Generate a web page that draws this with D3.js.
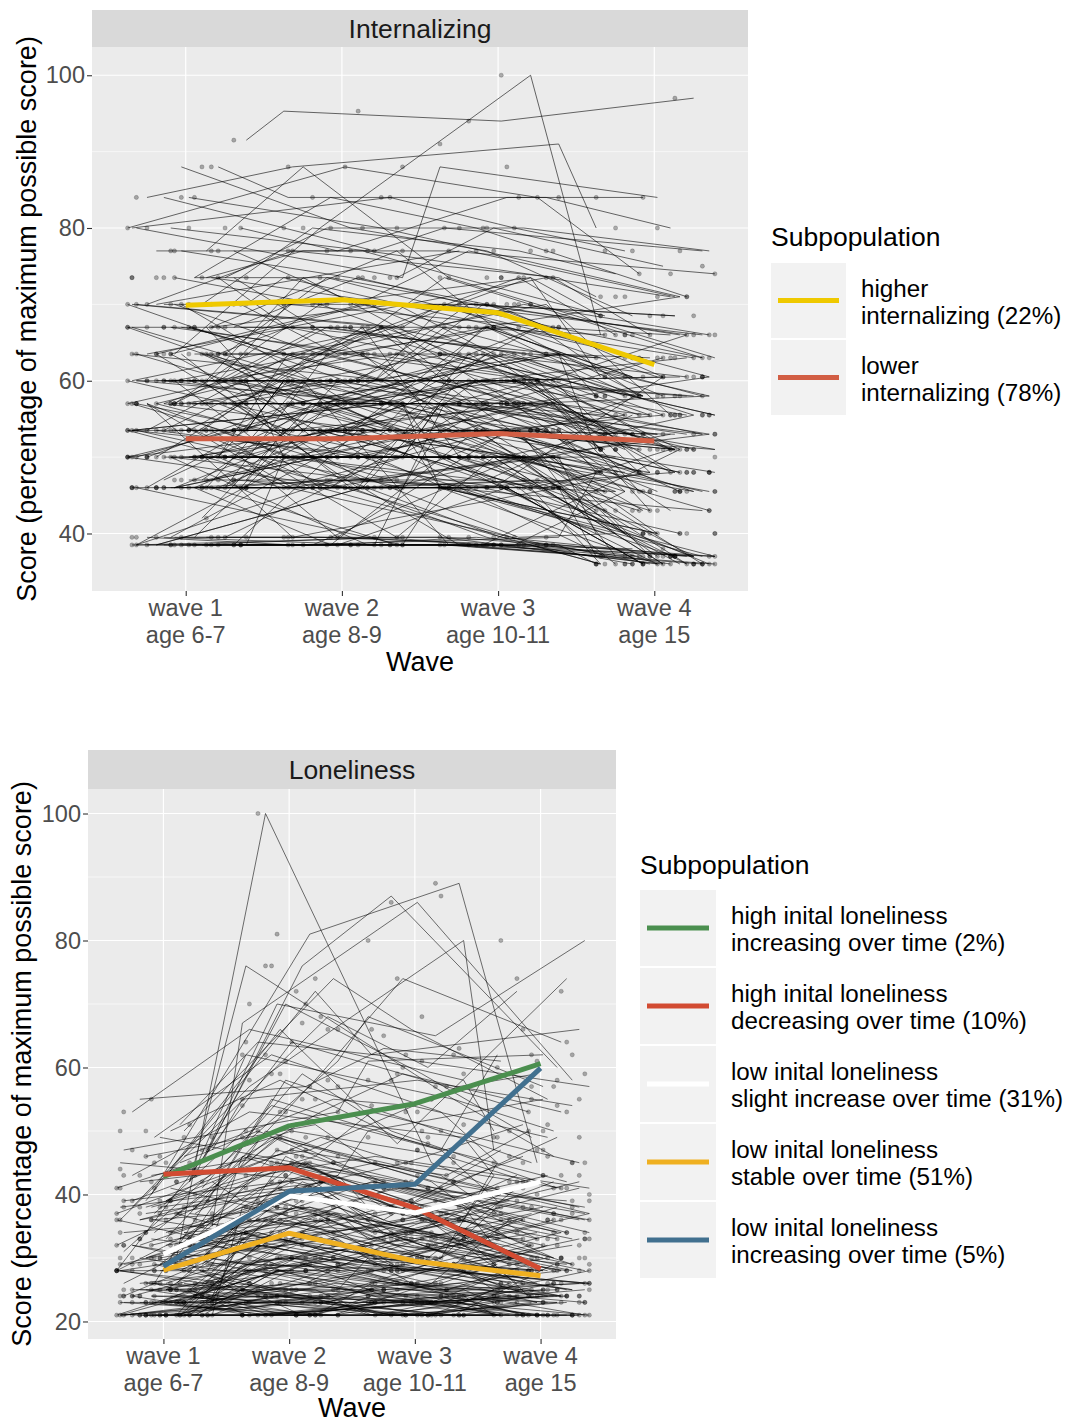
<!DOCTYPE html>
<html>
<head>
<meta charset="utf-8">
<script src="https://cdn.jsdelivr.net/npm/d3@7"></script>
<style>
  body { margin: 0; background: #fff; }
  text { font-family: "Liberation Sans", Arial, sans-serif; }
</style>
</head>
<body>
<script>

// ---- data ----
var waveLabels = [["wave 1", "age 6-7"], ["wave 2", "age 8-9"], ["wave 3", "age 10-11"], ["wave 4", "age 15"]]

var internalTicks = [40, 60, 80, 100]
var internalMinor = [50, 70, 90]
var internalLabels = [["higher", "internalizing (22%)"], ["lower", "internalizing (78%)"]]
var internalColors = ["#EFC900", "#D25E44"]
var internalMeans = [
  [69.9, 70.6, 68.9, 62.1],
  [52.4, 52.4, 53.1, 52.1]
]

var lonelyTicks = [20, 40, 60, 80, 100]
var lonelyMinor = [30, 50, 70, 90]
var lonelyLabels = [
  ["high inital loneliness", "increasing over time (2%)"],
  ["high inital loneliness", "decreasing over time (10%)"],
  ["low inital loneliness", "slight increase over time (31%)"],
  ["low inital loneliness", "stable over time (51%)"],
  ["low inital loneliness", "increasing over time (5%)"]
]
var lonelyColors = ["#4B8F4F", "#D24B32", "#FFFFFF", "#EFB021", "#41708F"]
var lonelyMeans = [
  [42.8, 50.8, 54.3, 60.6],
  [43.2, 44.2, 37.9, 28.3],
  [30.6, 39.8, 37.1, 42.0],
  [28.1, 33.9, 29.5, 27.2],
  [28.7, 40.5, 41.6, 59.9]
]

// individual children, one row = scores at wave 1..4 (sample of the cloud)
var internalKids = [
  [38.5,38.5,38.5,36],[38.5,38.5,38.5,37],[39.5,39.5,38.5,36],[38.5,39.5,39.5,36],[38.5,38.5,39.5,37],
  [39.5,38.5,38.5,36],[38.5,38.5,38.5,38],[39.5,39.5,39.5,37],[38.5,38.5,46,36],[38.5,46,38.5,37],
  [46,38.5,38.5,36],[38.5,38.5,50,40],[50,38.5,38.5,36],[38.5,53.5,46,37],[39.5,46,50,43],
  [38.5,38.5,38.5,45.5],[38.5,39.5,38.5,51],[46,46,38.5,36],[53.5,46,38.5,37],[39.5,38.5,57,36],
  [38.5,50,39.5,37],[60,46,38.5,36],[38.5,57,46,40],[46,38.5,53.5,36],[38.5,38.5,39.5,48],
  [39.5,39.5,38.5,37],[38.5,38.5,38.5,36],[50,53.5,46,36],[57,50,46,37],[63.5,53.5,50,36],
  [46,46,46,45.5],[46,46,47,43],[47,46,46,48],[46,47,46,36],[46,46,50,45.5],
  [47,47,46,40],[46,50,46,51],[50,46,47,43],[46,46,46,37],[47,46,53.5,45.5],
  [46,53.5,46,48],[46,38.5,46,36],[46,46,57,53],[57,46,46,43],[46,47,47,55.5],
  [47,50,53.5,48],[46,60,50,45.5],[63.5,47,46,40],[46,46,46,60.5],[47,57,46,36],
  [50,50,50,48],[50,50,53.5,51],[50,53.5,50,45.5],[53.5,50,50,48],[50,50,50,36],
  [50,46,50,53],[50,57,53.5,51],[50,50,46,43],[50,50,50,55.5],[46,50,50,48],
  [50,60,57,53],[50,53.5,60,58],[57,50,50,40],[50,50,63.5,51],[50,46,46,37],
  [60,50,53.5,48],[50,67,50,45.5],[50,50,57,63],[50,50,50,50],[50,47,50,37],
  [53.5,53.5,53.5,51],[53.5,53.5,50,53],[53.5,57,53.5,55.5],[50,53.5,53.5,48],[53.5,50,57,51],
  [53.5,53.5,53.5,58],[57,53.5,53.5,45.5],[53.5,60,57,51],[53.5,53.5,46,36],[53.5,46,53.5,53],
  [46,53.5,60,55.5],[53.5,63.5,53.5,48],[53.5,53.5,67,60.5],[67,53.5,53.5,51],[53.5,57,63.5,58],
  [53.5,50,50,43],[60,57,53.5,55.5],[53.5,53.5,53.5,37],
  [57,57,57,55.5],[57,57,53.5,53],[57,60,57,58],[53.5,57,57,51],[57,57,60,60.5],
  [57,53.5,57,48],[57,63.5,60,55.5],[60,57,57,53],[57,57,50,45.5],[57,67,63.5,63],
  [57,50,57,37],[57,57,57,66],[50,57,63.5,58],[57,60,67,60.5],[63.5,57,57,51],
  [60,60,60,58],[60,60,57,55.5],[60,63.5,60,60.5],[57,60,60,53],[60,60,63.5,63],
  [60,57,60,51],[60,67,63.5,58],[63.5,60,60,55.5],[60,60,53.5,48],[60,70,67,66],
  [60,53.5,60,45.5],[60,60,70,63],[53.5,60,60,58],[60,63.5,57,51],[60,60,60,40],
  [63.5,63.5,63.5,60.5],[63.5,67,63.5,63],[67,63.5,67,58],[63.5,60,63.5,55.5],[67,67,67,63],
  [63.5,70,67,66],[67,70,70,60.5],[63.5,57,60,53],[67,63.5,60,55.5],[67,73.5,70,68.5],
  [63.5,63.5,70,66],[70,67,63.5,58],[67,60,63.5,51],[63.5,67,73.5,71],[67,67,60,48],
  [70,70,70,66],[70,73.5,67,63],[73.5,70,73.5,68.5],[70,67,70,60.5],[73.5,73.5,70,66],
  [70,77,73.5,71],[77,73.5,70,63],[73.5,77,77,74],[70,63.5,67,58],[77,77,73.5,68.5],
  [73.5,70,63.5,55.5],[70,80,77,74],[80,77,73.5,66],[77,70,77,71],[73.5,80,80,77],
  [80,84,80,77],[84,80,77,71],[88,84,84,80],[80,88,84,74],[84,77,80,77],
  [91.5,95.3,94,97],[63.5,80,100,66],[80,73.5,88,84],[73.5,84,80,71],[84,88,91,80],
  [88,80,77,68.5],[77,88,73.5,63],[80,77,84,84],[70,null,77,null],[null,73.5,80,75],
  [42,57,50,45.5],[63.5,50,57,43],[57,46,63.5,48],[46,63.5,57,53],[67,57,50,40],
  [53.5,67,57,45.5],[50,63.5,70,55.5],[70,60,53.5,48],[47,60,67,58],[60,50,46,37],
  [57,70,60,51],[63.5,53.5,46,40],[53.5,46,60,63],[46,57,63.5,51],[70,57,60,53],
  [60,73.5,63.5,55.5],[50,57,46,36],[57,63.5,53.5,45.5],[67,77,67,58],[53.5,63.5,73.5,66],
  [63.5,70,60,48],[73.5,63.5,57,51],[46,53.5,57,60.5],[57,47,53.5,40],[60,53.5,67,71],
  [50,60,53.5,43],[67,57,67,63],[53.5,67,60,53],[47,53.5,63.5,55.5],[70,63.5,73.5,60.5],
  [38.5,50,57,45.5],[39.5,57,50,36],[57,39.5,46,37],[63.5,46,39.5,36],[46,60,38.5,37],
  [50,39.5,53.5,43],[38.5,46,60,51],[53.5,39.5,50,36],[60,50,39.5,40],[39.5,53.5,46,48],
  [57,60,70,68.5],[63.5,73.5,67,60.5],[60,67,57,45.5],[67,60,70,66],[73.5,67,60,51],
  [50,53.5,67,58],[57,67,73.5,63],[53.5,60,50,37],[46,50,57,53],[60,57,50,36]
]

var lonelyKids = [
  [21,21,21,21],[21,23,21,21],[23,21,24,21],[21,24,23,25],[24,23,21,21],
  [21,21,24,23],[23,25,23,21],[21,28,24,21],[24,21,21,24],[25,24,21,21],
  [21,26,25,23],[23,21,23,28],[26,24,23,21],[21,29,26,24],[24,28,25,26],
  [21,23,28,30],[25,30,26,24],[23,24,21,29],[28,25,24,21],[21,21,26,33],
  [24,33,28,25],[26,21,21,21],[21,25,30,28],[23,28,23,24],[25,25,25,23],
  [28,30,26,25],[21,32,29,26],[24,26,33,29],[26,29,24,21],[23,21,25,32],
  [21,36,30,25],[25,28,32,34],[28,24,21,23],[24,30,25,21],[21,24,29,36],
  [26,34,28,24],[23,29,34,30],[28,28,25,29],[25,21,24,26],[21,38,33,28],
  [21,21,23,21],[23,23,21,24],[21,24,21,23],[24,21,23,25],[21,23,26,21],
  [25,23,21,28],[23,26,24,21],[21,21,21,24],[26,23,23,21],[21,25,21,26],
  [24,24,26,23],[28,21,24,25],[21,28,28,26],[23,21,21,23],[25,26,29,24],
  [29,24,23,26],[21,30,25,28],[26,25,21,21],[24,29,28,32],[23,25,26,29],
  [29,33,30,28],[30,36,32,29],[32,29,28,25],[29,38,34,33],[33,34,29,26],
  [30,28,33,37],[32,41,36,30],[34,30,28,24],[29,32,37,39],[36,38,33,30],
  [30,45,38,33],[33,29,25,23],[29,36,30,41],[34,42,39,34],[32,33,36,42],
  [36,30,29,28],[30,39,42,36],[33,46,37,29],[29,25,30,45],[34,37,33,38],
  [36,49,41,34],[32,28,24,21],[30,34,39,46],[33,41,45,37],[29,30,28,32],
  [36,43,34,28],[34,36,38,43],[30,50,42,33],[32,38,30,26],[29,42,37,49],
  [37,45,41,37],[38,42,36,30],[39,49,45,41],[37,36,33,28],[41,50,46,42],
  [38,46,53,45],[42,39,34,29],[37,54,47,39],[39,43,50,55],[41,37,30,25],
  [43,53,49,43],[38,41,45,51],[45,50,42,34],[39,58,51,45],[42,45,38,33],
  [46,55,54,49],[37,33,29,26],[43,47,57,59],[41,59,50,41],[38,49,42,38],
  [45,42,37,30],[39,53,59,53],[42,62,55,46],[37,47,43,50],[46,51,45,38],
  [47,55,58,54],[49,62,53,45],[47,53,61,62],[50,58,49,42],[53,66,58,50],
  [49,45,42,36],[51,64,62,57],[47,70,59,49],[55,57,63,61],[50,74,66,55],
  [30,100,45,40],[40,81,89,45],[45,76,87,60],[43,70,65,80],[36,68,60,72],
  [33,59,74,64],[42,76,55,50],[28,64,57,53],[39,72,62,66],[35,67,86,58],
  [26,55,47,62],[31,61,68,57],[44,66,48,74],[38,57,80,47],
  [23,30,33,26],[28,34,29,37],[25,36,30,24],[30,26,32,40],[21,33,26,30],
  [26,39,34,29],[33,30,36,33],[24,34,30,38],[29,41,33,28],[21,30,36,26],
  [32,36,28,34],[25,32,37,30],[28,42,36,24],[30,37,33,41],[23,34,29,25],
  [36,33,30,38],[26,43,38,32],[34,39,32,28],[24,29,36,43],[29,45,39,30],
  [32,38,42,36],[28,46,36,29],[36,41,36,47],[23,37,32,28],[30,32,26,36],
  [38,45,39,33],[26,36,41,34],[33,47,41,36],[28,33,37,43],[25,41,33,28],
  [21,28,32,36],[32,45,37,32],[37,41,34,42],[28,32,38,33],[34,49,43,37],
  [24,38,36,30],[29,36,41,39],[39,46,38,32],[23,32,30,36],[32,43,46,41],
  [21,23,21,23],[23,21,23,21],[21,21,23,24],[23,24,23,21],[24,23,21,23],
  [23,26,24,23],[21,28,23,25],[28,23,23,24],[23,23,25,28],[25,21,23,24]
]

// fixed spread used for jittering marks across each wave (fraction of +/-0.4 wave)
var jitterSteps = [-0.93, 0.41, -0.18, 0.77, -0.62, 0.05, 0.88, -0.35, 0.26, -0.79,
                   0.63, -0.07, 0.52, -0.47, 0.97, -0.24, 0.14, -0.86, 0.33]

var svg = d3.select("body").append("svg")
  .attr("width", 1074)
  .attr("height", 1423)

function jit(i, w, k) {
  var n = jitterSteps.length
  return jitterSteps[(i * k + w * 5 + k) % n] * 0.4
}

function drawPanel(p) {
  var x = d3.scaleLinear().domain([0.4, 4.6]).range([p.left, p.right])
  var y = d3.scaleLinear().domain(p.yDomain).range([p.bottom, p.top])
  var g = svg.append("g")

  // strip
  g.append("rect")
    .attr("x", p.left).attr("y", p.stripTop)
    .attr("width", p.right - p.left).attr("height", p.top - p.stripTop)
    .style("fill", "#D9D9D9")
  g.append("text")
    .attr("x", (p.left + p.right) / 2)
    .attr("y", (p.top + p.stripTop) / 2)
    .attr("dy", "0.35em")
    .attr("text-anchor", "middle")
    .style("font-size", "26.5px")
    .style("fill", "#1A1A1A")
    .text(p.title)

  // panel
  g.append("rect")
    .attr("x", p.left).attr("y", p.top)
    .attr("width", p.right - p.left).attr("height", p.bottom - p.top)
    .style("fill", "#EBEBEB")

  g.selectAll("line.minor")
    .data(p.minor)
    .enter()
    .append("line")
    .attr("class", "minor")
    .attr("x1", p.left).attr("x2", p.right)
    .attr("y1", function(d){ return y(d) })
    .attr("y2", function(d){ return y(d) })
    .style("stroke", "#fff").style("stroke-width", 0.6)

  g.selectAll("line.majory")
    .data(p.ticks)
    .enter()
    .append("line")
    .attr("class", "majory")
    .attr("x1", p.left).attr("x2", p.right)
    .attr("y1", function(d){ return y(d) })
    .attr("y2", function(d){ return y(d) })
    .style("stroke", "#fff").style("stroke-width", 1.2)

  g.selectAll("line.majorx")
    .data([1, 2, 3, 4])
    .enter()
    .append("line")
    .attr("class", "majorx")
    .attr("y1", p.top).attr("y2", p.bottom)
    .attr("x1", function(d){ return x(d) })
    .attr("x2", function(d){ return x(d) })
    .style("stroke", "#fff").style("stroke-width", 1.2)

  // individual trajectories
  var line = d3.line()
    .x(function(d){ return x(d.w + 1 + jit(d.i, d.w, 7)) })
    .y(function(d){ return y(d.v) })

  var kids = p.kids.map(function(row, i){
    return row.map(function(v, w){ return {i: i, w: w, v: v} })
              .filter(function(d){ return d.v != null })
  })

  g.append("g").selectAll("path")
    .data(kids)
    .enter()
    .append("path")
    .attr("d", line)
    .style("fill", "none")
    .style("stroke", "#000")
    .style("stroke-opacity", p.lineOpacity)
    .style("stroke-width", 0.9)

  var pts = [].concat.apply([], kids)
  g.append("g").selectAll("circle")
    .data(pts)
    .enter()
    .append("circle")
    .attr("cx", function(d){ return x(d.w + 1 + jit(d.i, d.w, 11)) })
    .attr("cy", function(d){ return y(d.v) })
    .attr("r", 2.1)
    .style("fill", "#000")
    .style("fill-opacity", 0.3)
    .style("stroke", "#000")
    .style("stroke-opacity", 0.35)
    .style("stroke-width", 0.5)

  // subpopulation means
  var meanLine = d3.line()
    .x(function(d, w){ return x(w + 1) })
    .y(function(d){ return y(d) })

  g.append("g").selectAll("path")
    .data(p.means)
    .enter()
    .append("path")
    .attr("d", meanLine)
    .style("fill", "none")
    .style("stroke", function(d, i){ return p.colors[i] })
    .style("stroke-width", 5)
    .style("stroke-linejoin", "round")

  // axes
  var yAxis = g.append("g")
    .attr("transform", "translate(" + p.left + ",0)")
    .call(d3.axisLeft(y).tickValues(p.ticks).tickSize(5).tickPadding(2))
  yAxis.select(".domain").remove()
  yAxis.selectAll(".tick line").style("stroke", "#333").style("stroke-width", 1.1)
  yAxis.selectAll(".tick text")
    .style("font-size", "23.5px").style("fill", "#4D4D4D")
    .style("font-family", "Liberation Sans, Arial, sans-serif")

  var xAxis = g.append("g")
    .attr("transform", "translate(0," + p.bottom + ")")
    .call(d3.axisBottom(x).tickValues([1, 2, 3, 4]).tickSize(5).tickFormat(""))
  xAxis.select(".domain").remove()
  xAxis.selectAll(".tick line").style("stroke", "#333").style("stroke-width", 1.1)

  var xl = g.selectAll("text.xlab")
    .data(waveLabels)
    .enter()
    .append("text")
    .attr("class", "xlab")
    .attr("text-anchor", "middle")
    .style("font-size", "23.5px")
    .style("fill", "#4D4D4D")
  xl.append("tspan")
    .attr("x", function(d, i){ return x(i + 1) })
    .attr("y", p.bottom + 25)
    .text(function(d){ return d[0] })
  xl.append("tspan")
    .attr("x", function(d, i){ return x(i + 1) })
    .attr("y", p.bottom + 52)
    .text(function(d){ return d[1] })

  g.append("text")
    .attr("x", (p.left + p.right) / 2)
    .attr("y", p.bottom + p.waveTitleGap)
    .attr("text-anchor", "middle")
    .style("font-size", "27px")
    .style("fill", "#000")
    .text("Wave")

  g.append("text")
    .attr("transform", "translate(" + p.yTitleX + "," + ((p.top + p.bottom) / 2) + ") rotate(-90)")
    .attr("text-anchor", "middle")
    .attr("dy", "0.35em")
    .style("font-size", "27px")
    .style("fill", "#000")
    .text("Score (percentage of maximum possible score)")
}

function drawLegend(l) {
  var g = svg.append("g")
  g.append("text")
    .attr("x", l.x)
    .attr("y", l.titleY)
    .style("font-size", "26.5px")
    .style("fill", "#000")
    .text("Subpopulation")

  var items = g.selectAll("g.item")
    .data(l.labels)
    .enter()
    .append("g")
    .attr("class", "item")
    .attr("transform", function(d, i){ return "translate(" + l.x + "," + (l.boxTop + i * l.step) + ")" })

  items.append("rect")
    .attr("width", l.box).attr("height", l.box)
    .style("fill", "#F2F2F2")
  items.append("line")
    .attr("x1", 7).attr("x2", l.box - 7)
    .attr("y1", l.box / 2).attr("y2", l.box / 2)
    .style("stroke", function(d, i){ return l.colors[i] })
    .style("stroke-width", 5)
  var t = items.append("text")
    .style("font-size", "24.2px")
    .style("fill", "#000")
  t.append("tspan")
    .attr("x", l.box + 15).attr("y", l.box / 2 - 4)
    .text(function(d){ return d[0] })
  t.append("tspan")
    .attr("x", l.box + 15).attr("y", l.box / 2 + 23)
    .text(function(d){ return d[1] })
}

drawPanel({
  title: "Internalizing",
  kids: internalKids, means: internalMeans, colors: internalColors,
  ticks: internalTicks, minor: internalMinor,
  yDomain: [32.47, 103.7],
  left: 92, right: 748, stripTop: 10, top: 47, bottom: 591, yTitleX: 27,
  waveTitleGap: 80, lineOpacity: 0.65
})
drawLegend({
  x: 771, titleY: 246, boxTop: 263, box: 75, step: 77,
  labels: internalLabels, colors: internalColors
})

drawPanel({
  title: "Loneliness",
  kids: lonelyKids, means: lonelyMeans, colors: lonelyColors,
  ticks: lonelyTicks, minor: lonelyMinor,
  yDomain: [17.24, 103.86],
  left: 88, right: 616, stripTop: 750, top: 789, bottom: 1339, yTitleX: 22,
  waveTitleGap: 78, lineOpacity: 0.62
})
drawLegend({
  x: 640, titleY: 874, boxTop: 890, box: 76, step: 78,
  labels: lonelyLabels, colors: lonelyColors
})

</script>
</body>
</html>
